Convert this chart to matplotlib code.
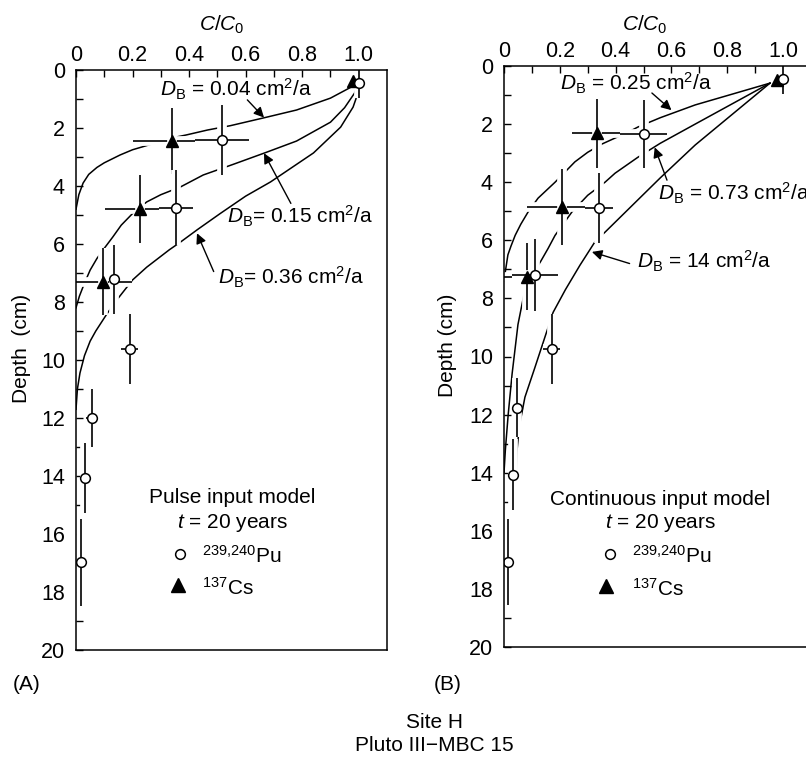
import matplotlib
matplotlib.use("Agg")
import matplotlib.pyplot as plt
import matplotlib.patheffects as pe

plt.rcParams['font.family'] = 'Liberation Sans'
plt.rcParams['mathtext.fontset'] = 'custom'
plt.rcParams['mathtext.rm'] = 'Liberation Sans'
plt.rcParams['mathtext.it'] = 'Liberation Sans:italic'
plt.rcParams['mathtext.bf'] = 'Liberation Sans:bold'

# ---- panel A data (pulse input model) ----
pu_c_a = [1.0, 0.517, 0.355, 0.135, 0.19, 0.055, 0.032, 0.018]
pu_z_a = [0.45, 2.41, 4.75, 7.22, 9.62, 12.0, 14.07, 16.97]
pu_cerr_a = [0.0, 0.095, 0.06, 0.0, 0.03, 0.02, 0.015, 0.015]
pu_zerr_a = [0.5, 1.2, 1.3, 1.2, 1.2, 1.0, 1.2, 1.5]
cs_c_a = [0.98, 0.34, 0.227, 0.097]
cs_z_a = [0.38, 2.45, 4.8, 7.3]
cs_cerr_a = [0.0, 0.14, 0.125, 0.1]
cs_zerr_a = [0.0, 1.13, 1.18, 1.15]

c004_x = [1.0, 0.90, 0.78, 0.66, 0.546, 0.465, 0.39, 0.33, 0.28, 0.20, 0.156, 0.10, 0.074, 0.045, 0.025, 0.01, 0.0]
c004_z = [0.45, 0.97, 1.38, 1.66, 1.92, 2.07, 2.24, 2.36, 2.52, 2.75, 2.93, 3.2, 3.36, 3.6, 3.9, 4.3, 4.8]
c015_x = [1.0, 0.985, 0.95, 0.90, 0.78, 0.67, 0.557, 0.45, 0.37, 0.30, 0.25, 0.20, 0.16, 0.13, 0.096, 0.074, 0.05, 0.03, 0.012, 0.0]
c015_z = [0.45, 0.8, 1.3, 1.8, 2.45, 2.85, 3.25, 3.62, 4.03, 4.3, 4.55, 4.95, 5.35, 5.76, 6.2, 6.5, 6.9, 7.35, 7.8, 8.2]
c036_x = [1.0, 0.99, 0.98, 0.936, 0.84, 0.688, 0.60, 0.51, 0.43, 0.37, 0.33, 0.25, 0.20, 0.15, 0.11, 0.07, 0.05, 0.03, 0.014, 0.005, 0.0]
c036_z = [0.45, 1.0, 1.28, 1.97, 2.86, 3.86, 4.35, 4.95, 5.5, 5.93, 6.2, 6.8, 7.24, 7.86, 8.4, 9.0, 9.35, 9.85, 10.45, 11.0, 11.7]

# ---- panel B data (continuous input model) ----
pu_c_b = [1.0, 0.50, 0.34, 0.111, 0.171, 0.047, 0.032, 0.014]
pu_z_b = [0.45, 2.35, 4.88, 7.2, 9.75, 11.76, 14.07, 17.07]
pu_cerr_b = [0.0, 0.084, 0.05, 0.084, 0.03, 0.0, 0.0, 0.0]
pu_zerr_b = [0.5, 1.17, 1.2, 1.25, 1.2, 1.02, 1.22, 1.48]
cs_c_b = [0.978, 0.333, 0.208, 0.082]
cs_z_b = [0.48, 2.32, 4.85, 7.25]
cs_cerr_b = [0.0, 0.09, 0.126, 0.082]
cs_zerr_b = [0.0, 1.18, 1.3, 1.15]

c025_x = [0.953, 0.685, 0.56, 0.48, 0.444, 0.35, 0.30, 0.254, 0.183, 0.122, 0.086, 0.06, 0.04, 0.025, 0.014, 0.006, 0.0]
c025_z = [0.59, 1.34, 1.78, 2.1, 2.28, 2.69, 2.97, 3.3, 4.0, 4.55, 5.03, 5.45, 5.83, 6.2, 6.5, 7.0, 7.4]
c073_x = [0.953, 0.685, 0.56, 0.48, 0.398, 0.362, 0.30, 0.243, 0.183, 0.158, 0.13, 0.111, 0.075, 0.05, 0.029, 0.015, 0.005, 0.0]
c073_z = [0.59, 2.0, 2.66, 3.14, 3.69, 4.0, 4.45, 5.03, 5.83, 6.28, 6.75, 7.03, 7.7, 8.9, 10.6, 12.0, 13.2, 14.0]
c14_x = [0.953, 0.685, 0.56, 0.47, 0.362, 0.326, 0.272, 0.22, 0.176, 0.158, 0.11, 0.075, 0.055, 0.046, 0.043, 0.04]
c14_z = [0.59, 2.72, 3.85, 4.7, 5.72, 6.05, 6.86, 7.7, 8.48, 9.0, 10.4, 11.4, 12.4, 13.3, 14.2, 15.0]

FS = 15

fig = plt.figure(figsize=(8.06, 7.57), dpi=100)


def setup(ax):
    ax.set_xlim(0, 1.1)
    ax.set_ylim(20, 0)
    ax.set_xticks([0, 0.2, 0.4, 0.6, 0.8, 1.0])
    ax.set_xticklabels(['0', '0.2', '0.4', '0.6', '0.8', '1.0'])
    ax.set_xticks([0.1, 0.3, 0.5, 0.7, 0.9], minor=True)
    ax.set_yticks(range(0, 21, 2))
    ax.set_yticks(range(1, 20, 2), minor=True)
    ax.xaxis.tick_top()
    ax.tick_params(axis='x', which='both', direction='in', length=5, width=1,
                   top=True, bottom=False, labeltop=True, labelbottom=False,
                   labelsize=FS + 0.5, pad=3)
    ax.tick_params(axis='y', which='both', direction='in', length=5, width=1,
                   left=True, right=False, labelsize=FS + 0.5, pad=8)
    for s in ax.spines.values():
        s.set_linewidth(1.1)
        s.set_zorder(6)


def data(ax, curves, pu, cs):
    for cx, cz in curves:
        ax.plot(cx, cz, color='k', lw=1.1, zorder=2)
    for c, z, ce, ze in (cs, pu):
        eb = ax.errorbar(c, z, xerr=ce, yerr=ze, fmt='none', ecolor='k',
                         elinewidth=1.2, capsize=0, zorder=3)
        for col in eb[2]:
            col.set_path_effects([pe.Stroke(linewidth=7, foreground='white'), pe.Normal()])
    ax.plot(cs[0], cs[1], '^', color='k', ms=9, zorder=4)
    ax.plot(pu[0], pu[1], 'o', mfc='white', mec='k', mew=1.1, ms=7, zorder=5)


def arrow(ax, tip, tail):
    ax.annotate('', xy=tip, xytext=tail,
                arrowprops=dict(arrowstyle='-|>', color='k', lw=1.0,
                                mutation_scale=15, shrinkA=0, shrinkB=0))


def key(ax, title, cx, ys, mk, tx, tys):
    ax.text(cx, ys[0], title, transform=ax.transAxes, ha='center', va='baseline', fontsize=FS)
    ax.text(cx, ys[1], r'$t$ = 20 years', transform=ax.transAxes, ha='center', va='baseline', fontsize=FS)
    ax.plot(mk[0][0], mk[0][1], 'o', mfc='white', mec='k', mew=1.1, ms=7, transform=ax.transAxes)
    ax.plot(mk[1][0], mk[1][1], '^', color='k', ms=9.5, transform=ax.transAxes)
    ax.text(tx, tys[0], r'$^{239{,}240}$Pu', transform=ax.transAxes, ha='left', va='baseline', fontsize=FS)
    ax.text(tx, tys[1], r'$^{137}$Cs', transform=ax.transAxes, ha='left', va='baseline', fontsize=FS)


# ---------- panel A ----------
axA = fig.add_axes([76 / 806, 107 / 757, 311 / 806, 580 / 757])
setup(axA)
data(axA, [(c004_x, c004_z), (c015_x, c015_z), (c036_x, c036_z)],
     (pu_c_a, pu_z_a, pu_cerr_a, pu_zerr_a), (cs_c_a, cs_z_a, cs_cerr_a, cs_zerr_a))
axA.text(0.47, 1.068, r'$C/C_0$', transform=axA.transAxes, ha='center', va='baseline', fontsize=FS)
axA.text(-0.174, 0.52, 'Depth  (cm)', transform=axA.transAxes, rotation=90,
         ha='center', va='center', fontsize=FS)
axA.text(0.298, 0.93, r'$D_\mathrm{B}$ = 0.04 cm$^2$/a', ha='left', va='baseline', fontsize=FS)
axA.text(0.535, 5.31, r'$D_\mathrm{B}$= 0.15 cm$^2$/a', ha='left', va='baseline', fontsize=FS)
axA.text(0.504, 7.38, r'$D_\mathrm{B}$= 0.36 cm$^2$/a', ha='left', va='baseline', fontsize=FS)
arrow(axA, (0.665, 1.64), (0.606, 1.03))
arrow(axA, (0.665, 2.87), (0.76, 4.6))
arrow(axA, (0.428, 5.63), (0.487, 6.95))
key(axA, 'Pulse input model', 0.503, (0.2535, 0.21),
    ((0.335, 0.165), (0.329, 0.112)), 0.406, (0.15, 0.095))

# ---------- panel B ----------
axB = fig.add_axes([504 / 806, 110 / 757, 307 / 806, 581 / 757])
setup(axB)
data(axB, [(c025_x, c025_z), (c073_x, c073_z), (c14_x, c14_z)],
     (pu_c_b, pu_z_b, pu_cerr_b, pu_zerr_b), (cs_c_b, cs_z_b, cs_cerr_b, cs_zerr_b))
axB.text(0.46, 1.060, r'$C/C_0$', transform=axB.transAxes, ha='center', va='baseline', fontsize=FS)
axB.text(-0.183, 0.52, 'Depth (cm)', transform=axB.transAxes, rotation=90,
         ha='center', va='center', fontsize=FS)
axB.text(0.20, 0.83, r'$D_\mathrm{B}$ = 0.25 cm$^2$/a', ha='left', va='baseline', fontsize=FS)
# this label runs off the right edge in the original figure as well
axB.text(0.552, 4.62, r'$D_\mathrm{B}$ = 0.73 cm$^2$/a', ha='left', va='baseline', fontsize=FS, clip_on=False)
axB.text(0.477, 6.97, r'$D_\mathrm{B}$ = 14 cm$^2$/a', ha='left', va='baseline', fontsize=FS)
arrow(axB, (0.60, 1.52), (0.53, 0.93))
arrow(axB, (0.54, 2.8), (0.584, 3.93))
arrow(axB, (0.315, 6.4), (0.45, 6.8))
key(axB, 'Continuous input model', 0.509, (0.245, 0.205),
    ((0.345, 0.16), (0.333, 0.105)), 0.417, (0.145, 0.0875))

# ---------- figure labels ----------
fig.text(27 / 806, 1 - 690 / 757, '(A)', ha='center', va='baseline', fontsize=FS)
fig.text(448 / 806, 1 - 690 / 757, '(B)', ha='center', va='baseline', fontsize=FS)
fig.text(434 / 806, 1 - 728 / 757, 'Site H', ha='center', va='baseline', fontsize=FS)
fig.text(434 / 806, 1 - 751 / 757, 'Pluto III\u2212MBC 15', ha='center', va='baseline', fontsize=FS)

fig.savefig('out.png', dpi=100)
